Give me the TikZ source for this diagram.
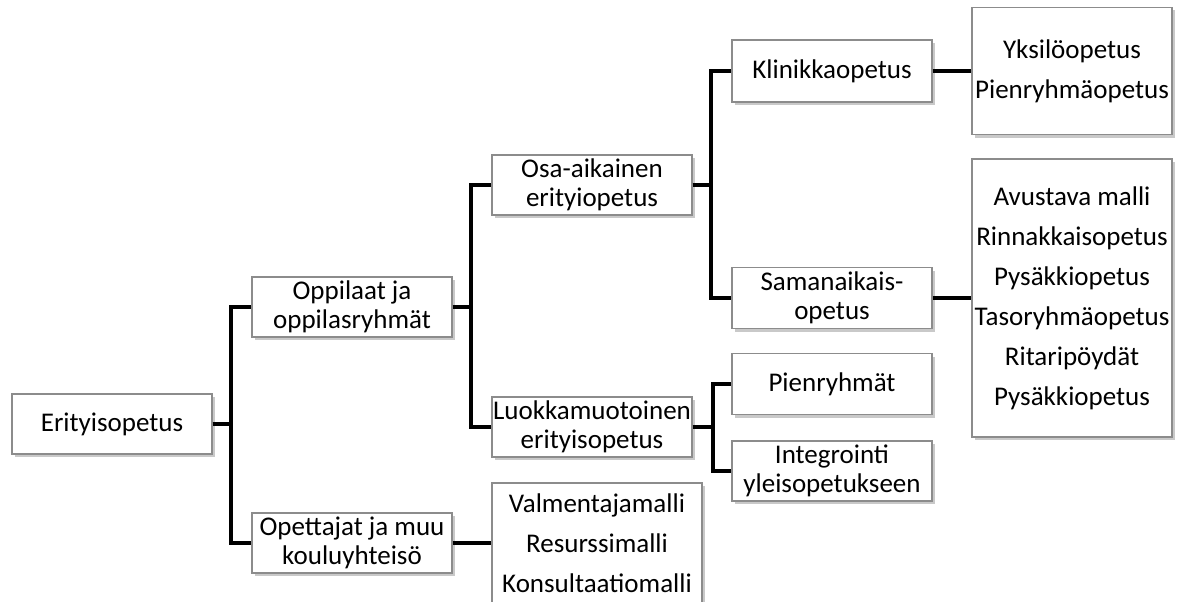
\documentclass[tikz,border=0pt]{standalone}
\usepackage{fontspec}
\setmainfont{Carlito}
\usetikzlibrary{shadows}
\begin{document}
\begin{tikzpicture}[x=1pt,y=-1pt,
  box/.style={draw=black!45, line width=1.3pt, fill=white, inner sep=0pt, align=center,
    font=\fontsize{27}{29.5}\selectfont,
    drop shadow={shadow xshift=2.5pt, shadow yshift=-3pt, opacity=0.35, fill=black!60}},
  listbox/.style={box, font=\fontsize{27}{40}\selectfont},
  conn/.style={line width=4pt, black}]
\useasboundingbox[fill=white] (0,0) rectangle (1181,602);
\node[box, minimum width=200pt, minimum height=60pt] (E) at (112,424) {Erityisopetus};
\node[box, minimum width=200pt, minimum height=60pt] (O1) at (352,307) {Oppilaat ja\\oppilasryhmät};
\node[box, minimum width=200pt, minimum height=60pt] (O2) at (352,543) {Opettajat ja muu\\kouluyhteisö};
\node[box, minimum width=200pt, minimum height=60pt] (OA) at (592,185) {Osa-aikainen\\erityiopetus};
\node[box, minimum width=200pt, minimum height=60pt] (LU) at (592,427) {Luokkamuotoinen\\erityisopetus};
\node[listbox, minimum width=210pt, minimum height=120pt] (VA) at (597,543) {Valmentajamalli\\Resurssimalli\\Konsultaatiomalli};
\node[box, minimum width=200pt, minimum height=62pt] (KL) at (832,71) {Klinikkaopetus};
\node[box, minimum width=200pt, minimum height=61pt] (SA) at (832,298) {Samanaikais-\\opetus};
\node[box, minimum width=200pt, minimum height=61pt] (PI) at (832,384) {Pienryhmät};
\node[box, minimum width=200pt, minimum height=60pt] (IN) at (832,471) {Integrointi\\yleisopetukseen};
\node[listbox, minimum width=200pt, minimum height=127pt] (YK) at (1072,71) {Yksilöopetus\\Pienryhmäopetus};
\node[listbox, minimum width=200pt, minimum height=278pt] (AV) at (1072,298) {Avustava malli\\Rinnakkaisopetus\\Pysäkkiopetus\\Tasoryhmäopetus\\Ritaripöydät\\Pysäkkiopetus};
% connectors
\draw[conn] (E.east) -- ++(18,0) |- (O1.west);
\draw[conn] (E.east) -- ++(18,0) |- (O2.west);
\draw[conn] (O1.east) -- ++(18,0) |- (OA.west);
\draw[conn] (O1.east) -- ++(18,0) |- (LU.west);
\draw[conn] (OA.east) -- ++(18,0) |- (KL.west);
\draw[conn] (OA.east) -- ++(18,0) |- (SA.west);
\draw[conn] (LU.east) -- ++(20,0) |- (PI.west);
\draw[conn] (LU.east) -- ++(20,0) |- (IN.west);
\draw[conn] (O2.east) -- (VA.west);
\draw[conn] (KL.east) -- (YK.west);
\draw[conn] (SA.east) -- (AV.west);
\end{tikzpicture}
\end{document}
